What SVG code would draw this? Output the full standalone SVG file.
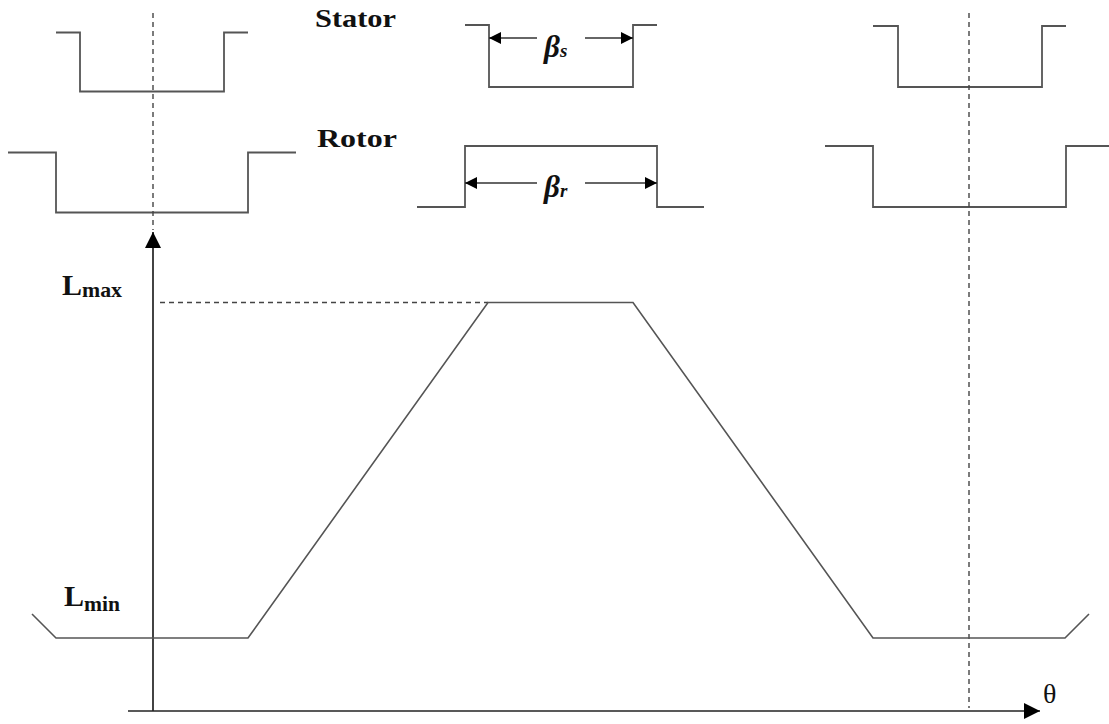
<svg xmlns="http://www.w3.org/2000/svg" width="1109" height="724" viewBox="0 0 1109 724">
<style>
.shape{fill:none;stroke:#555;stroke-width:1.8}
.dash{fill:none;stroke:#444;stroke-width:1.4;stroke-dasharray:5,4}
.axis{fill:none;stroke:#222;stroke-width:1.7}
.dim{fill:none;stroke:#333;stroke-width:1.6}
.lbl{font-family:"Liberation Serif",serif;font-weight:bold;fill:#111}
.gr{font-family:"Liberation Serif",serif;font-style:italic;font-weight:bold;fill:#111}
</style>
<defs>
<marker id="ah" viewBox="0 0 10 10" refX="10" refY="5" markerWidth="16" markerHeight="12" markerUnits="userSpaceOnUse" orient="auto">
<path d="M0,0 L10,5 L0,10 Z" fill="#000"/>
</marker>
<marker id="axh" viewBox="0 0 10 10" refX="10" refY="5" markerWidth="16" markerHeight="16" markerUnits="userSpaceOnUse" orient="auto">
<path d="M0,0 L10,5 L0,10 Z" fill="#000"/>
</marker>
</defs>
<rect width="1109" height="724" fill="#fff"/>
<g id="stator-left"><path class="shape" d="M56,32.5 H80 V91.5 H224 V32.5 H248"/></g>
<g id="stator-center"><path class="shape" d="M465,25 H489 V87 H633 V25 H657"/></g>
<g id="stator-right"><path class="shape" d="M873,26 H898 V87 H1042 V26 H1066"/></g>
<g id="rotor-left"><path class="shape" d="M8,152.5 H56 V212.5 H248 V152.5 H296"/></g>
<g id="rotor-center"><path class="shape" d="M417,207 H465 V146 H657 V207 H704"/></g>
<g id="rotor-right"><path class="shape" d="M825,146 H873 V207 H1066 V146 H1109"/></g>
<g id="labels">
<text class="lbl" x="315" y="27" font-size="25" textLength="81" lengthAdjust="spacingAndGlyphs">Stator</text>
<text class="lbl" x="317" y="147" font-size="25" textLength="80" lengthAdjust="spacingAndGlyphs">Rotor</text>
<text class="gr" x="544" y="57" font-size="31">β<tspan font-size="19" dy="0">s</tspan></text>
<text class="gr" x="544" y="197" font-size="31">β<tspan font-size="19" dy="0">r</tspan></text>
<text class="lbl" x="62" y="295" font-size="30">L<tspan font-size="21" dy="2" textLength="40" lengthAdjust="spacingAndGlyphs">max</tspan></text>
<text class="lbl" x="64" y="606" font-size="30">L<tspan font-size="21" dy="5" textLength="36" lengthAdjust="spacingAndGlyphs">min</tspan></text>
<text x="1043" y="703" font-family="Liberation Serif,serif" font-size="28" fill="#111">θ</text>
</g>
<g id="connectors">
<path class="dash" d="M153,13 V230"/>
<path class="dash" d="M969,13 V708"/>
<path class="dash" d="M160,302.5 H488"/>
<path class="axis" d="M153,711 V232" marker-end="url(#axh)"/>
<path class="axis" d="M128,711 H1040" marker-end="url(#axh)"/>
<path class="shape" d="M32,614 L56,638 H248 L488,302.5 H633 L873,638 H1065 L1089,614" style="stroke-width:1.6"/>
<path class="dim" d="M537,38 H489" marker-end="url(#ah)"/>
<path class="dim" d="M585,38 H633" marker-end="url(#ah)"/>
<path class="dim" d="M537,183 H465" marker-end="url(#ah)"/>
<path class="dim" d="M585,183 H657" marker-end="url(#ah)"/>
</g>
</svg>
